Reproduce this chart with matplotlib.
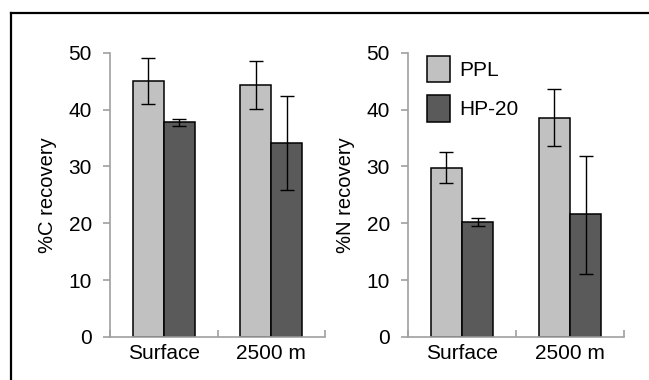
import matplotlib.pyplot as plt
import numpy as np
from matplotlib.lines import Line2D

plt.rcParams['font.family'] = ['Liberation Sans', 'DejaVu Sans']

sites = ['Surface', '2500 m']
series = ['PPL', 'HP-20']

# %C recovery (mean, error bar low/high)
c_ppl = [45.0, 44.4]
c_ppl_lo = [41.0, 40.1]
c_ppl_hi = [49.0, 48.6]
c_hp = [37.8, 34.1]
c_hp_lo = [37.1, 25.9]
c_hp_hi = [38.4, 42.3]

# %N recovery
n_ppl = [29.7, 38.5]
n_ppl_lo = [27.1, 33.6]
n_ppl_hi = [32.6, 43.6]
n_hp = [20.3, 21.6]
n_hp_lo = [19.6, 11.1]
n_hp_hi = [21.0, 31.9]

light = '#c1c1c1'
dark = '#5a5a5a'
axis_gray = '#a0a0a0'

fig = plt.figure(figsize=(6.49, 3.80), dpi=100)
ax1 = fig.add_axes([0.1695, 0.1132, 0.3313, 0.7481])
ax2 = fig.add_axes([0.6287, 0.1132, 0.3328, 0.7481])

# frame lines (top and left) around the figure
fig.add_artist(Line2D([0.0163, 1.0], [0.967, 0.967], transform=fig.transFigure, color='black', lw=1.6))
fig.add_artist(Line2D([0.0163, 0.0163], [0.0, 0.967], transform=fig.transFigure, color='black', lw=1.6))


def panel(ax, ppl, ppl_lo, ppl_hi, hp, hp_lo, hp_hi, ylabel):
    x = np.arange(len(sites)) + 0.5
    w = 0.29
    ppl = np.array(ppl)
    hp = np.array(hp)
    e1 = [ppl - np.array(ppl_lo), np.array(ppl_hi) - ppl]
    e2 = [hp - np.array(hp_lo), np.array(hp_hi) - hp]
    ax.bar(x - w / 2, ppl, w, color=light, edgecolor='black', linewidth=1.1, label=series[0],
           yerr=e1, error_kw=dict(ecolor='black', elinewidth=1.0, capsize=5, capthick=1.0))
    ax.bar(x + w / 2, hp, w, color=dark, edgecolor='black', linewidth=1.1, label=series[1],
           yerr=e2, error_kw=dict(ecolor='black', elinewidth=1.0, capsize=5, capthick=1.0))
    ax.set_xlim(0, len(sites))
    ax.set_ylim(0, 50)
    ax.set_yticks(range(0, 51, 10))
    ax.set_xticks(x)
    ax.set_xticklabels(sites)
    ax.set_xticks(range(len(sites) + 1), minor=True)
    ax.tick_params(axis='x', which='major', length=0, pad=5, labelsize=15)
    ax.tick_params(axis='x', which='minor', length=5, direction='in', color=axis_gray, width=1.2)
    ax.tick_params(axis='y', length=5, color=axis_gray, width=1.2, pad=8, labelsize=15)
    ax.yaxis.set_tick_params(which='minor', left=False)
    for s in ['top', 'right']:
        ax.spines[s].set_visible(False)
    for s in ['left', 'bottom']:
        ax.spines[s].set_color(axis_gray)
        ax.spines[s].set_linewidth(1.2)
    ax.set_ylabel(ylabel, fontsize=14.5, labelpad=8)


panel(ax1, c_ppl, c_ppl_lo, c_ppl_hi, c_hp, c_hp_lo, c_hp_hi, '%C recovery')
panel(ax2, n_ppl, n_ppl_lo, n_ppl_hi, n_hp, n_hp_lo, n_hp_hi, '%N recovery')

leg = ax2.legend(loc='upper left', bbox_to_anchor=(0.087, 0.99), frameon=False, fontsize=15,
                 handlelength=1.1, handleheight=1.6, handletextpad=0.45, labelspacing=0.6,
                 borderaxespad=0.0, borderpad=0.0)

fig.savefig('out.png', dpi=100)
